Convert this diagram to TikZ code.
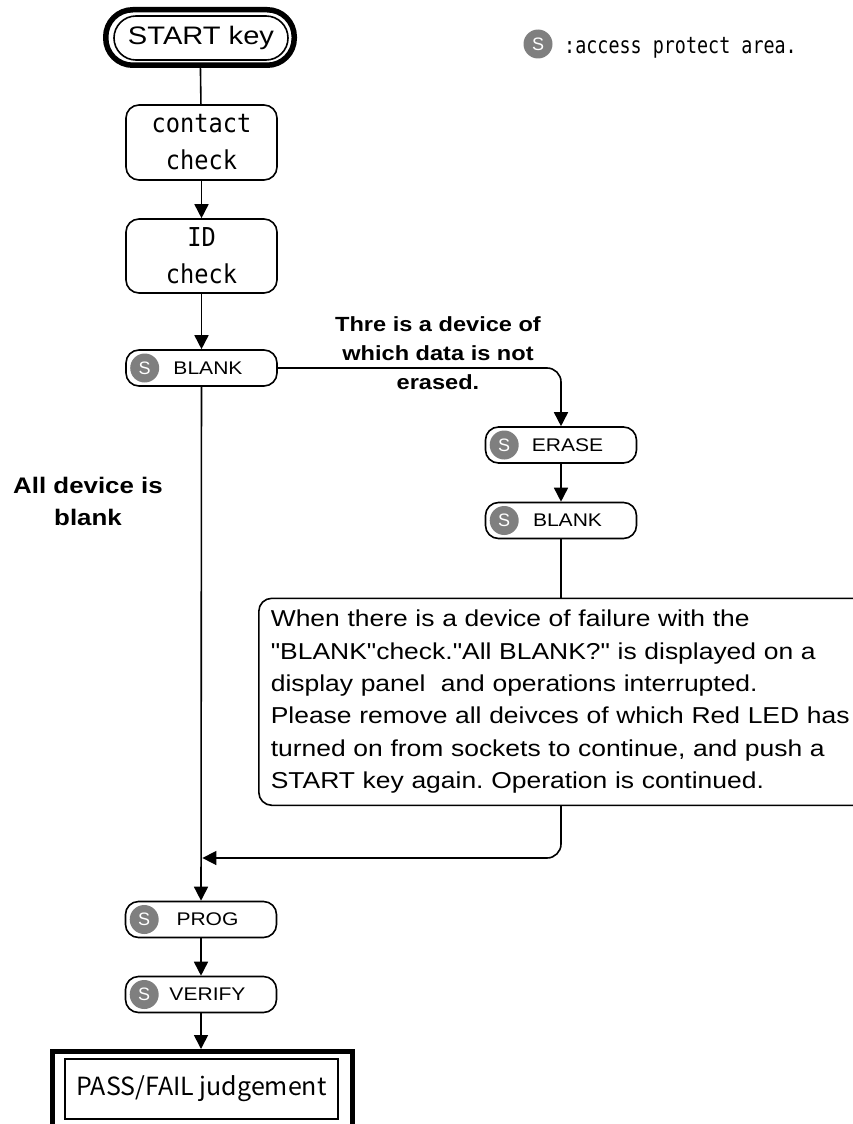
\documentclass[tikz,border=0pt]{standalone}
\usepackage{fontspec}
\setmainfont{Liberation Sans}
\usetikzlibrary{arrows.meta,calc}
\newfontfamily\arialx[FakeStretch=1.15]{Liberation Sans}
\newfontfamily\arialn{Liberation Sans}
\newfontfamily\monox[FakeStretch=0.91]{DejaVu Sans Mono}
\newfontfamily\monoleg[FakeStretch=0.8]{DejaVu Sans Mono}
\newfontfamily\jpx{Noto Sans CJK JP}
\definecolor{badgegray}{HTML}{7F7F7F}
\newcommand{\stepname}[1]{\hspace*{13pt}#1}
\frenchspacing
\tikzset{
  line/.style={line width=1.6pt},
  flow/.style={line width=1.6pt,-{Triangle[length=14pt,width=14pt]}},
  stepbox/.style={draw,line width=1.6pt,rounded corners=13pt,minimum width=151pt,
    minimum height=36pt,inner sep=0pt,font=\arialx\fontsize{18.3}{22}\selectfont},
  checkbox/.style={draw,line width=1.6pt,rounded corners=13pt,minimum width=151pt,
    inner sep=0pt,align=center,font=\monox\fontsize{26}{37}\selectfont},
  sbadge/.style={circle,fill=badgegray,minimum size=29pt,inner sep=0pt,text=white,
    font=\arialn\fontsize{18}{18}\selectfont},
  boldlabel/.style={inner sep=0pt,align=center,anchor=north}
}
\begin{document}
\begin{tikzpicture}[x=1pt,y=-1pt]
\useasboundingbox (0,0) rectangle (853,1124);
\clip (0,0) rectangle (853,1124);
% start
\node[draw,line width=1.6pt,rounded corners=22pt,minimum width=174pt,minimum height=44pt,
  inner sep=0pt,font=\arialx\fontsize{25.3}{30}\selectfont] (start) at (201,38) {START key};
\node[draw,line width=5.5pt,rounded corners=27pt,minimum width=188.5pt,minimum height=55.5pt,
  inner sep=0pt] (startframe) at (200,37.5) {};
% legend
\node[sbadge] (legbadge) at (538,44) {S};
\node[anchor=base west,inner sep=0pt,font=\monoleg\fontsize{23}{24}\selectfont] (legtext) at (564,53) {:access protect area.};
% checks
\node[checkbox,minimum height=75pt] (contact) at (201.5,142.5) {contact\\check};
\node[checkbox,minimum height=74pt] (idbox) at (201.5,256) {ID\\check};
% blank main
\node[stepbox] (blank1) at (201.5,368) {\stepname{BLANK}};
\node[sbadge] at ([xshift=19.5pt]blank1.west) {S};
% erase branch
\node[stepbox] (erase) at (561,445) {\stepname{ERASE}};
\node[sbadge] at ([xshift=19.5pt]erase.west) {S};
\node[stepbox] (blank2) at (561,520.5) {\stepname{BLANK}};
\node[sbadge] at ([xshift=19.5pt]blank2.west) {S};
% labels
\node[boldlabel,font=\arialx\bfseries\fontsize{20.5}{29}\selectfont] (lbltop) at (438,316) {Thre is a device of\\which data is not\\erased.};
\node[boldlabel,font=\arialx\bfseries\fontsize{22.5}{32}\selectfont] (lblall) at (88,476.5) {All device is\\blank};
% note
\node[draw,line width=1.6pt,rounded corners=13pt,anchor=north west,minimum height=207pt,
  text width=610pt,inner xsep=12pt,inner ysep=0pt,align=left,
  font=\arialx\fontsize{23}{32.4}\selectfont] (note) at (258,597.5)
  {When there is a device of failure with the\\
   "BLANK"check."All BLANK?" is displayed on a\\
   display panel\ \ and operations interrupted.\\
   Please remove all deivces of which Red LED has\\
   turned on from sockets to continue, and push a\\
   START key again. Operation is continued.};
% prog / verify
\node[stepbox] (prog) at (201,919.5) {\stepname{PROG}};
\node[sbadge] at ([xshift=19.5pt]prog.west) {S};
\node[stepbox] (verify) at (201,994.5) {\stepname{VERIFY}};
\node[sbadge] at ([xshift=19.5pt]verify.west) {S};
% pass/fail
\node[draw,line width=1.6pt,minimum width=273pt,minimum height=60pt,inner sep=0pt,
  font=\jpx\fontsize{25}{30}\selectfont] (pass) at (201.5,1089) {PASS/FAIL judgement};
\draw[line width=5pt] (52.5,1140) -- (52.5,1051.5) -- (352.5,1051.5) -- (352.5,1140);
\coordinate (frametop) at (201,1049);
\coordinate (merge) at (202.4,858);
% connectors
\draw[line] (startframe) -- (contact);
\draw[flow] (contact) -- (idbox);
\draw[flow] (idbox) -- (blank1);
\draw[flow,rounded corners=14pt] (blank1.east) -| (erase.north);
\draw[flow] (erase) -- (blank2);
\draw[line] (blank2.south) -- (blank2.south |- note.north);
\draw[flow,rounded corners=14pt] (blank2.south |- note.south) |- (merge);
\draw[flow] (blank1) -- (prog);
\draw[flow] (prog) -- (verify);
\draw[flow] (verify) -- (frametop);
\end{tikzpicture}
\end{document}
